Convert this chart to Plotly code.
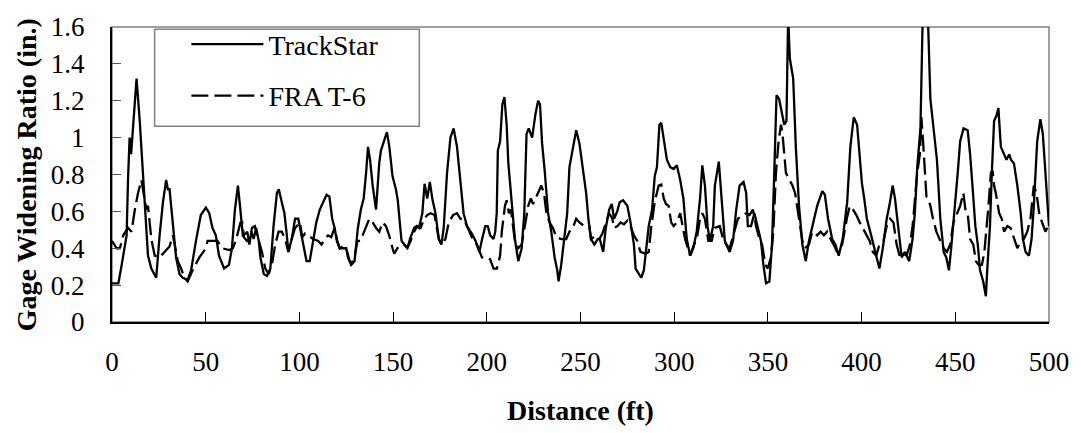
import plotly.graph_objects as go

# ---------------- data ----------------
trackstar_dist = [0, 3.4, 5, 7.8, 8.6, 9.4, 10.2, 13.1, 14.8, 16.6, 18.3, 19.2, 21.0, 23.6, 25.4, 27.2, 28.9, 29.8, 30.7,
                  32.5, 34.2, 36.0, 37.7, 40.4, 42.2, 44.8, 47.4, 50.1, 51.9, 53.6, 55.4, 57.1, 59.8, 62.4, 64.0, 65.6,
                  67.2, 68.5, 69.8, 71.3, 72.2, 73.3, 74.4, 75.6, 76.9, 78.3, 79.2, 81.0, 82.7, 84.5, 86.2, 88.0, 89.0,
                  90.6, 92.0, 93.3, 94.1, 95.9, 97.7, 99.4, 100.8, 102.0, 103.8, 105.5, 107.4, 109.0, 110.9, 112.7,
                  114.5, 116.0, 117.5, 118.8, 120.0, 121.5, 123.2, 125.0, 125.9, 127.6, 129.4, 131.2, 132.8, 134.3,
                  135.6, 136.6, 137.7, 139.1, 140.9, 142.6, 143.5, 144.8, 146.7, 148.0, 149.7, 151.5, 152.5, 153.2,
                  154.5, 156.0, 157.6, 159.0, 161.2, 162.5, 163.8, 165.6, 166.8, 168.2, 169.6, 170.9, 172.6, 174.4,
                  175.8, 177.0, 178.8, 180.6, 182.3, 184.1, 185.9, 187.6, 189.4, 192.0, 194.0, 196.0, 197.5, 199.2,
                  200.5, 201.8, 203.6, 204.5, 205.3, 205.9, 207.1, 208.3, 209.4, 210.6, 211.5, 213.3, 215.0, 216.8,
                  218.6, 220.0, 221.2, 222.4, 224.2, 226.0, 227.4, 228.4, 229.5, 230.9, 232.7, 234.4, 236.2, 237.6,
                  238.3, 239.7, 241.5, 242.9, 244.1, 245.4, 246.8, 247.7, 249.4, 251.2, 253.0, 254.2, 255.6, 257.4,
                  259.2, 260.3, 262.1, 263.5, 265.3, 266.7, 267.9, 269.6, 270.9, 272.7, 275.0, 276.7, 278.5, 279.4,
                  281.1, 282.4, 283.8, 285.0, 286.4, 288.2, 289.6, 290.8, 292.1, 293.1, 294.4, 296.1, 297.9, 299.7,
                  301.4, 303.2, 304.9, 306.7, 308.5, 310.2, 312.0, 313.8, 315.0, 316.4, 317.8, 319.0, 320.8, 321.7,
                  323.8, 325.2, 326.3, 327.0, 329.6, 331.4, 333.1, 334.9, 337.0, 338.4, 339.3, 341.0, 342.8, 344.5,
                  346.3, 347.6, 349.0, 350.8, 352.2, 353.4, 354.6, 356.0, 357.5, 358.7, 359.9, 360.8, 361.7, 363.5,
                  364.9, 366.6, 368.4, 370.2, 371.9, 373.7, 376.3, 379.0, 380.4, 382.1, 384.3, 386.0, 387.8, 389.9,
                  392.3, 394.0, 395.8, 397.6, 399.0, 400.2, 401.4, 402.8, 404.6, 406.4, 408.1, 409.5, 411.3, 413.4,
                  414.8, 416.6, 417.8, 419.6, 421.4, 423.2, 425.4, 427.2, 428.4, 429.7, 431.4, 432.6, 434.0, 435.4,
                  436.7, 438.5, 440.2, 442.0, 443.8, 445.2, 446.6, 447.8, 449.6, 451.3, 452.6, 454.4, 456.6, 457.9,
                  459.3, 460.7, 462.0, 463.2, 464.9, 466.3, 467.2, 468.5, 469.5, 470.7, 472.0, 473.0, 474.3, 476.0,
                  477.3, 478.8, 479.7, 481.3, 483.1, 484.9, 486.1, 487.5, 489.3, 490.7, 491.9, 493.7, 495.4, 496.7,
                  498.1, 499.1, 500.0]
trackstar_gwr = [0.21, 0.21, 0.30, 0.47, 0.79, 1.00, 0.91, 1.32, 1.09, 0.79, 0.51, 0.36, 0.29, 0.24, 0.47, 0.65, 0.77, 0.72, 0.72,
                 0.51, 0.35, 0.26, 0.24, 0.23, 0.28, 0.44, 0.58, 0.62, 0.59, 0.51, 0.47, 0.36, 0.29, 0.31, 0.40, 0.61,
                 0.74, 0.61, 0.47, 0.48, 0.49, 0.42, 0.49, 0.45, 0.51, 0.44, 0.35, 0.26, 0.25, 0.29, 0.52, 0.70, 0.72,
                 0.65, 0.59, 0.47, 0.38, 0.45, 0.56, 0.56, 0.49, 0.42, 0.33, 0.33, 0.44, 0.54, 0.61, 0.65,
                 0.69, 0.68, 0.56, 0.51, 0.44, 0.40, 0.40, 0.40, 0.35, 0.31, 0.33, 0.51, 0.61, 0.67,
                 0.81, 0.95, 0.88, 0.74, 0.61, 0.86, 0.93, 0.97, 1.03, 0.95, 0.79, 0.72, 0.66, 0.58,
                 0.44, 0.42, 0.40, 0.45, 0.51, 0.52, 0.51, 0.59, 0.75, 0.67, 0.76, 0.67, 0.59, 0.45,
                 0.42, 0.51, 0.81, 1.00, 1.05, 0.95, 0.77, 0.59, 0.52, 0.48, 0.44, 0.38, 0.45, 0.52,
                 0.52, 0.47, 0.45, 0.49, 0.59, 0.93, 0.98, 1.18, 1.22, 1.07, 0.86, 0.67, 0.45, 0.33,
                 0.40, 0.59, 1.02, 1.05, 1.00, 1.13, 1.20, 1.18, 0.97, 0.82, 0.59, 0.49, 0.35, 0.28,
                 0.22, 0.31, 0.45, 0.59, 0.84, 0.91, 0.98, 1.04, 0.97, 0.84, 0.70, 0.56, 0.45, 0.42,
                 0.45, 0.45, 0.38, 0.51, 0.61, 0.64, 0.56, 0.60, 0.65, 0.66, 0.63, 0.54, 0.42, 0.29,
                 0.26, 0.24, 0.28, 0.38, 0.52, 0.61, 0.79, 0.84, 1.07, 1.08, 1.00, 0.88, 0.84, 0.83,
                 0.85, 0.77, 0.67, 0.45, 0.36, 0.40, 0.49, 0.67, 0.85, 0.74, 0.52, 0.44, 0.52, 0.74,
                 0.87, 0.70, 0.52, 0.44, 0.38, 0.44, 0.61, 0.74, 0.76, 0.70, 0.52, 0.52, 0.59, 0.52,
                 0.44, 0.31, 0.21, 0.22, 0.42, 0.81, 1.23, 1.21, 1.13, 1.07, 1.09, 1.66, 1.43, 1.32,
                 0.95, 0.63, 0.42, 0.33, 0.44, 0.52, 0.63, 0.71, 0.69, 0.56, 0.45, 0.42, 0.36, 0.45,
                 0.65, 0.95, 1.11, 1.07, 0.90, 0.75, 0.67, 0.56, 0.49, 0.42, 0.35, 0.29, 0.40, 0.56,
                 0.63, 0.74, 0.67, 0.52, 0.35, 0.38, 0.33, 0.45, 0.59, 0.84, 1.05, 1.65, 1.85, 1.65,
                 1.21, 1.04, 0.88, 0.56, 0.38, 0.35, 0.28, 0.40, 0.59, 0.81, 0.98, 1.05, 1.04, 0.91,
                 0.72, 0.52, 0.42, 0.28, 0.22, 0.14, 0.31, 0.52, 0.81, 1.09, 1.12, 1.16, 0.95, 0.91,
                 0.88, 0.91, 0.88, 0.86, 0.74, 0.59, 0.45, 0.38, 0.36, 0.45, 0.63, 0.98, 1.10, 1.02,
                 0.81, 0.63, 0.52]

fra_dist = [0, 2.5, 4.2, 6.0, 8.6, 10.4, 12.2, 13.9, 15.7, 17.5, 18.3, 19.2, 20.1, 21.0, 22.8, 25.4, 28.0, 30.7, 32.5,
            33.3, 35.1, 36.9, 38.6, 40.4, 43.0, 46.6, 50.1, 51.0, 53.6, 56.3, 58.9, 62.4, 64.5, 66.0, 68.6, 69.5,
            70.4, 72.0, 73.5, 74.7, 76.2, 78.3, 80.0, 81.8, 83.6, 85.3, 87.1, 88.9, 90.6, 92.4, 94.1, 95.9, 97.7,
            100.3, 101.5, 103.0, 104.7, 107.4, 110.0, 111.8, 113.5, 115.3, 117.0, 118.8, 120.2, 121.5, 123.2, 125.0,
            126.8, 128.0, 129.4, 131.0, 132.6, 133.8, 135.6, 137.3, 139.1, 140.9, 142.6, 144.4, 146.2, 147.9, 149.7,
            150.6, 152.3, 154.1, 155.9, 157.6, 159.4, 161.2, 162.9, 164.7, 166.5, 168.2, 170.0, 172.1, 174.4, 175.8,
            177.9, 179.7, 182.0, 184.1, 185.9, 187.6, 189.4, 192.0, 194.7, 197.4, 200.0, 201.8, 203.6, 205.4, 207.1,
            208.0, 209.7, 210.6, 211.8, 212.9, 214.1, 215.0, 216.8, 218.6, 220.3, 221.2, 222.1, 223.5, 224.7, 226.0,
            227.4, 229.1, 230.5, 231.8, 233.5, 235.3, 237.1, 239.7, 242.4, 244.1, 245.9, 247.7, 249.4, 252.1, 254.7,
            255.6, 258.2, 260.0, 261.7, 263.5, 265.3, 267.0, 267.9, 269.7, 271.4, 273.2, 275.0, 276.7, 278.5, 280.3,
            282.0, 284.7, 286.4, 287.8, 289.6, 291.7, 293.1, 294.4, 295.6, 297.0, 298.4, 299.7, 301.4, 303.2, 304.4,
            305.8, 308.5, 310.2, 312.0, 313.8, 315.0, 316.4, 318.2, 320.0, 321.7, 324.3, 326.1, 327.8, 329.6, 332.2,
            334.0, 336.6, 338.4, 340.2, 342.0, 343.7, 345.5, 346.9, 348.6, 349.9, 351.6, 352.9, 354.3, 355.7, 357.0,
            357.8, 358.7, 359.6, 360.5, 361.7, 363.1, 364.5, 365.7, 366.6, 368.4, 369.8, 371.9, 373.7, 376.3, 378.1,
            379.9, 381.6, 383.4, 385.1, 386.9, 389.6, 392.3, 393.7, 395.4, 397.2, 399.0, 400.7, 402.5, 404.3, 406.0,
            407.8, 409.5, 411.7, 413.4, 415.2, 417.0, 418.7, 420.5, 422.2, 424.0, 425.8, 427.2, 428.4, 429.7, 431.1,
            431.9, 432.8, 433.7, 434.6, 435.5, 436.7, 438.1, 439.9, 442.0, 443.8, 445.5, 447.3, 449.0, 450.8, 452.6,
            454.3, 455.4, 456.6, 457.2, 457.9, 459.6, 461.0, 462.5, 464.2, 465.5, 466.7, 467.7, 469.0, 469.9, 470.7,
            471.6, 473.4, 474.8, 476.0, 477.8, 479.5, 481.3, 483.1, 484.9, 486.6, 488.4, 490.1, 491.9, 493.3, 494.9,
            496.4, 498.1, 499.5, 500.0]
fra_gwr = [0.44, 0.40, 0.40, 0.47, 0.51, 0.49, 0.61, 0.70, 0.77, 0.67, 0.61, 0.63, 0.52, 0.45, 0.36, 0.35, 0.38, 0.41, 0.47,
           0.43, 0.33, 0.29, 0.24, 0.22, 0.28, 0.35, 0.40, 0.44, 0.44, 0.44, 0.40, 0.39, 0.40, 0.44, 0.54, 0.54,
           0.46, 0.44, 0.45, 0.51, 0.52, 0.45, 0.38, 0.29, 0.26, 0.31, 0.42, 0.49, 0.49, 0.45, 0.38, 0.45, 0.51,
           0.54, 0.46, 0.48, 0.47, 0.45, 0.44, 0.42, 0.45, 0.47, 0.46, 0.51, 0.44, 0.40, 0.41, 0.40,
           0.33, 0.32, 0.35, 0.44, 0.44, 0.47, 0.51, 0.56, 0.54, 0.51, 0.49, 0.54, 0.52, 0.47, 0.40,
           0.37, 0.40, 0.42, 0.42, 0.40, 0.44, 0.49, 0.52, 0.51, 0.56, 0.58, 0.59, 0.58, 0.45, 0.42,
           0.45, 0.54, 0.58, 0.59, 0.56, 0.56, 0.52, 0.46, 0.42, 0.35, 0.35, 0.34, 0.29, 0.29, 0.36,
           0.49, 0.63, 0.66, 0.59, 0.61, 0.51, 0.44, 0.40, 0.42, 0.52, 0.59, 0.63, 0.67, 0.64, 0.67,
           0.70, 0.74, 0.70, 0.59, 0.54, 0.51, 0.46, 0.45, 0.45, 0.49, 0.51, 0.56, 0.54, 0.52, 0.52,
           0.45, 0.47, 0.45, 0.48, 0.54, 0.59, 0.56, 0.51, 0.52, 0.54, 0.53, 0.55, 0.52, 0.47, 0.44,
           0.38, 0.37, 0.38, 0.52, 0.65, 0.74, 0.745, 0.67, 0.64, 0.63, 0.54, 0.52, 0.54, 0.59, 0.52,
           0.45, 0.36, 0.41, 0.45, 0.56, 0.59, 0.56, 0.44, 0.44, 0.51, 0.52, 0.45, 0.42, 0.40, 0.49,
           0.56, 0.58, 0.59, 0.58, 0.61, 0.52, 0.45, 0.42, 0.31, 0.29, 0.35, 0.49, 0.81, 0.98, 1.07,
           1.02, 0.91, 0.81, 0.79, 0.77, 0.74, 0.70, 0.63, 0.56, 0.44, 0.40, 0.42, 0.49, 0.47, 0.49,
           0.47, 0.49, 0.45, 0.42, 0.38, 0.42, 0.57, 0.63, 0.61, 0.58, 0.54, 0.51, 0.47, 0.44, 0.38,
           0.36, 0.42, 0.44, 0.52, 0.56, 0.54, 0.42, 0.35, 0.37, 0.36, 0.42, 0.52, 0.67, 0.81, 0.91,
           1.11, 0.98, 0.81, 0.68, 0.67, 0.63, 0.56, 0.49, 0.44, 0.40, 0.38, 0.42, 0.54, 0.59, 0.63,
           0.70, 0.61, 0.59, 0.51, 0.45, 0.42, 0.33, 0.31, 0.31, 0.38, 0.51, 0.63, 0.81, 0.82, 0.74,
           0.70, 0.59, 0.56, 0.49, 0.52, 0.51, 0.45, 0.40, 0.44, 0.45, 0.49, 0.56, 0.74, 0.70, 0.58,
           0.54, 0.49, 0.52, 0.50]

x_ticks = [0, 50, 100, 150, 200, 250, 300, 350, 400, 450, 500]
x_tick_labels = ["0", "50", "100", "150", "200", "250", "300", "350", "400", "450", "500"]
y_ticks = [0, 0.2, 0.4, 0.6, 0.8, 1.0, 1.2, 1.4, 1.6]
y_tick_labels = ["0", "0.2", "0.4", "0.6", "0.8", "1", "1.2", "1.4", "1.6"]

series_names = ["TrackStar", "FRA T-6"]
x_title = "Distance (ft)"
y_title = "Gage Widening Ratio (in.)"

FONT = "Liberation Serif, Times New Roman, serif"

fig = go.Figure()
fig.add_trace(go.Scatter(x=trackstar_dist, y=trackstar_gwr, mode="lines", name=series_names[0],
                         legendgroup="a", line=dict(color="black", width=2.3)))
fig.add_trace(go.Scatter(x=fra_dist, y=fra_gwr, mode="lines", name=series_names[1],
                         legendgroup="b", line=dict(color="black", width=2.3, dash="17px,6px")))

fig.update_layout(
    width=1081, height=433,
    margin=dict(l=112, r=24, t=21, b=111),
    paper_bgcolor="white", plot_bgcolor="white",
    font=dict(family=FONT, size=27, color="black"),
    showlegend=True,
    legend=dict(x=0.0794, y=1.0255, xanchor="left", yanchor="top",
                bgcolor="rgba(0,0,0,0)", borderwidth=0,
                font=dict(family=FONT, size=28, color="black"),
                traceorder="grouped", tracegroupgap=12, itemwidth=72),
    xaxis=dict(range=[0, 500], tickvals=x_ticks, ticktext=x_tick_labels,
               ticks="inside", ticklen=10, tickwidth=1, tickcolor="black",
               showline=True, linecolor="black", linewidth=2, showgrid=False, zeroline=False,
               ticklabelstandoff=15, tickfont=dict(family=FONT, size=27)),
    yaxis=dict(range=[0, 1.6], tickvals=y_ticks, ticktext=y_tick_labels,
               ticks="inside", ticklen=9, tickwidth=1, tickcolor="#555555",
               showline=True, linecolor="black", linewidth=2, showgrid=False, zeroline=False,
               ticklabelstandoff=20, tickfont=dict(family=FONT, size=27)),
    shapes=[
        dict(type="rect", xref="paper", yref="paper", x0=0, y0=0, x1=1, y1=1,
             line=dict(color="#808080", width=1.5), layer="below"),
        # legend frame
        dict(type="rect", xref="paper", yref="paper", x0=0.0455, y0=0.6638, x1=0.328, y1=0.9924,
             line=dict(color="#808080", width=1.5), fillcolor="white", layer="above"),
    ],
    annotations=[
        dict(text="<b>" + x_title + "</b>", xref="paper", yref="paper", x=0.5, y=-0.299,
             xanchor="center", yanchor="middle", showarrow=False, font=dict(family=FONT, size=28)),
        dict(text="<b>" + y_title + "</b>", xref="paper", yref="paper", x=-0.0915, y=0.498,
             xanchor="center", yanchor="middle", showarrow=False, textangle=-90,
             font=dict(family=FONT, size=28)),
    ],
)

fig.write_html("out.html")
